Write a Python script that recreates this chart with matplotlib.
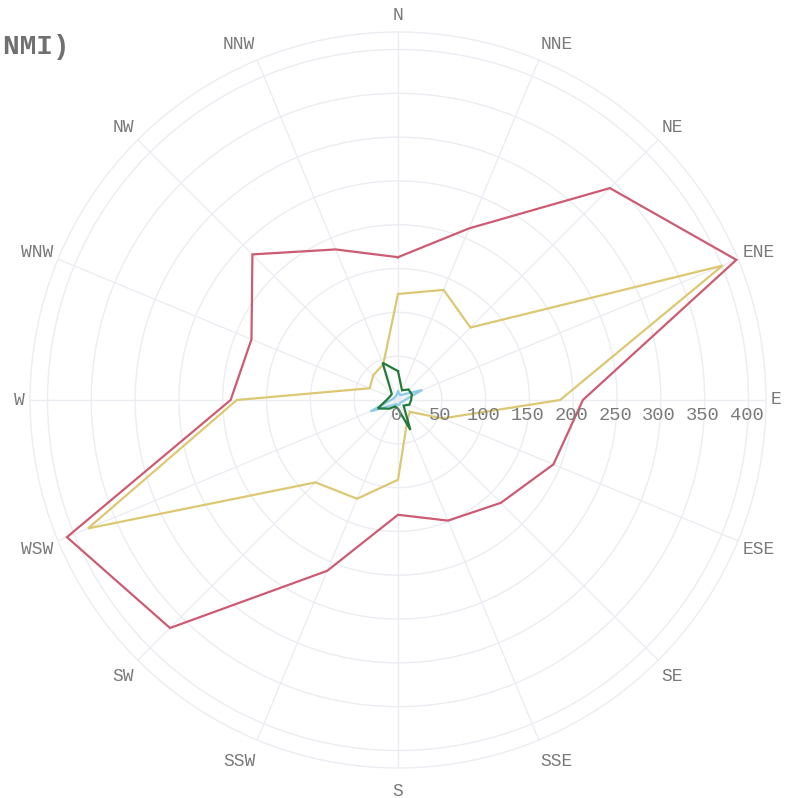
import numpy as np
import matplotlib
matplotlib.use("Agg")
import matplotlib.pyplot as plt
from matplotlib.transforms import offset_copy

directions = ["N", "NNE", "NE", "ENE", "E", "ESE", "SE", "SSE",
              "S", "SSW", "SW", "WSW", "W", "WNW", "NW", "NNW"]

series_red = [163, 212, 342, 418, 211, 192, 166, 149, 131, 211, 368, 409, 191, 181, 235, 186]
series_yellow = [121, 136, 117, 401, 185, 55, 19, 27, 91, 122, 133, 383, 184, 35, 40, 44]
series_blue = [10, 6, 9, 30, 8, 5, 4, 5, 6, 5, 8, 34, 8, 5, 5, 5]
series_green = [33, 12, 17, 17, 15, 14, 9, 37, 10, 8, 14, 25, 13, 10, 10, 46]

radial_ticks = [0, 50, 100, 150, 200, 250, 300, 350, 400]
r_max = 420
title_text = "Wind Direction (NMI)"

colors = {"red": "#cc5b73", "yellow": "#dcc873", "blue": "#8fcbe6", "green": "#237a3c"}
grid_color = "#ebedf2"
text_color = "#7a7a7a"
font = "Liberation Mono"

W, H = 786, 798
fig = plt.figure(figsize=(W / 100, H / 100), dpi=100)
fig.patch.set_facecolor("white")

cx, cy, R = 398, 400, 368
ax = fig.add_axes([(cx - R) / W, (H - cy - R) / H, 2 * R / W, 2 * R / H], projection="polar")
ax.set_theta_zero_location("N")
ax.set_theta_direction(-1)
ax.set_ylim(0, r_max)

theta = np.deg2rad(np.arange(len(directions)) * 22.5)
ax.set_xticks(theta)
ax.set_xticklabels([])
ax.set_yticks(radial_ticks[1:])
ax.set_yticklabels([])
ax.grid(True, color=grid_color, linewidth=1.0)
ax.spines["polar"].set_color(grid_color)
ax.spines["polar"].set_linewidth(1.0)
ax.tick_params(length=0)

def closed(vals):
    return np.append(theta, theta[0]), np.append(vals, vals[0])

for vals, c in [(series_red, colors["red"]), (series_yellow, colors["yellow"]),
                (series_blue, colors["blue"]), (series_green, colors["green"])]:
    t, v = closed(np.array(vals, dtype=float))
    ax.plot(t, v, color=c, linewidth=1.6, zorder=3, solid_joinstyle="miter")

# compass labels, anchored just outside the outer ring (plotly-like anchoring)
r_anchor = r_max * 373 / R
for ang, lab in zip(theta, directions):
    a = np.pi / 2 - ang  # math angle
    c, s = np.cos(a), np.sin(a)
    if abs(c) < 0.05:
        ha = "center"
    elif c > 0:
        ha = "left"
    else:
        ha = "right"
    dy = 12 * s if s > 0 else 18 * s
    tr = offset_copy(ax.transData, fig=fig, x=0, y=dy, units="dots")
    ax.text(ang, r_anchor, lab, transform=tr, ha=ha, va="center", fontsize=13,
            color=text_color, family=font, clip_on=False)

# radial tick labels along the E axis
tr = offset_copy(ax.transData, fig=fig, x=-2, y=-16, units="dots")
for v in radial_ticks:
    ax.text(np.pi / 2, v, str(v), transform=tr, ha="center", va="center", fontsize=13.5,
            color=text_color, family=font, zorder=5, clip_on=False)

fig.text(70 / W, 1 - 47 / H, title_text, ha="right", va="center", fontsize=20,
         fontweight="bold", color="#707070", family=font)

fig.savefig("out.png", dpi=100, facecolor="white")
